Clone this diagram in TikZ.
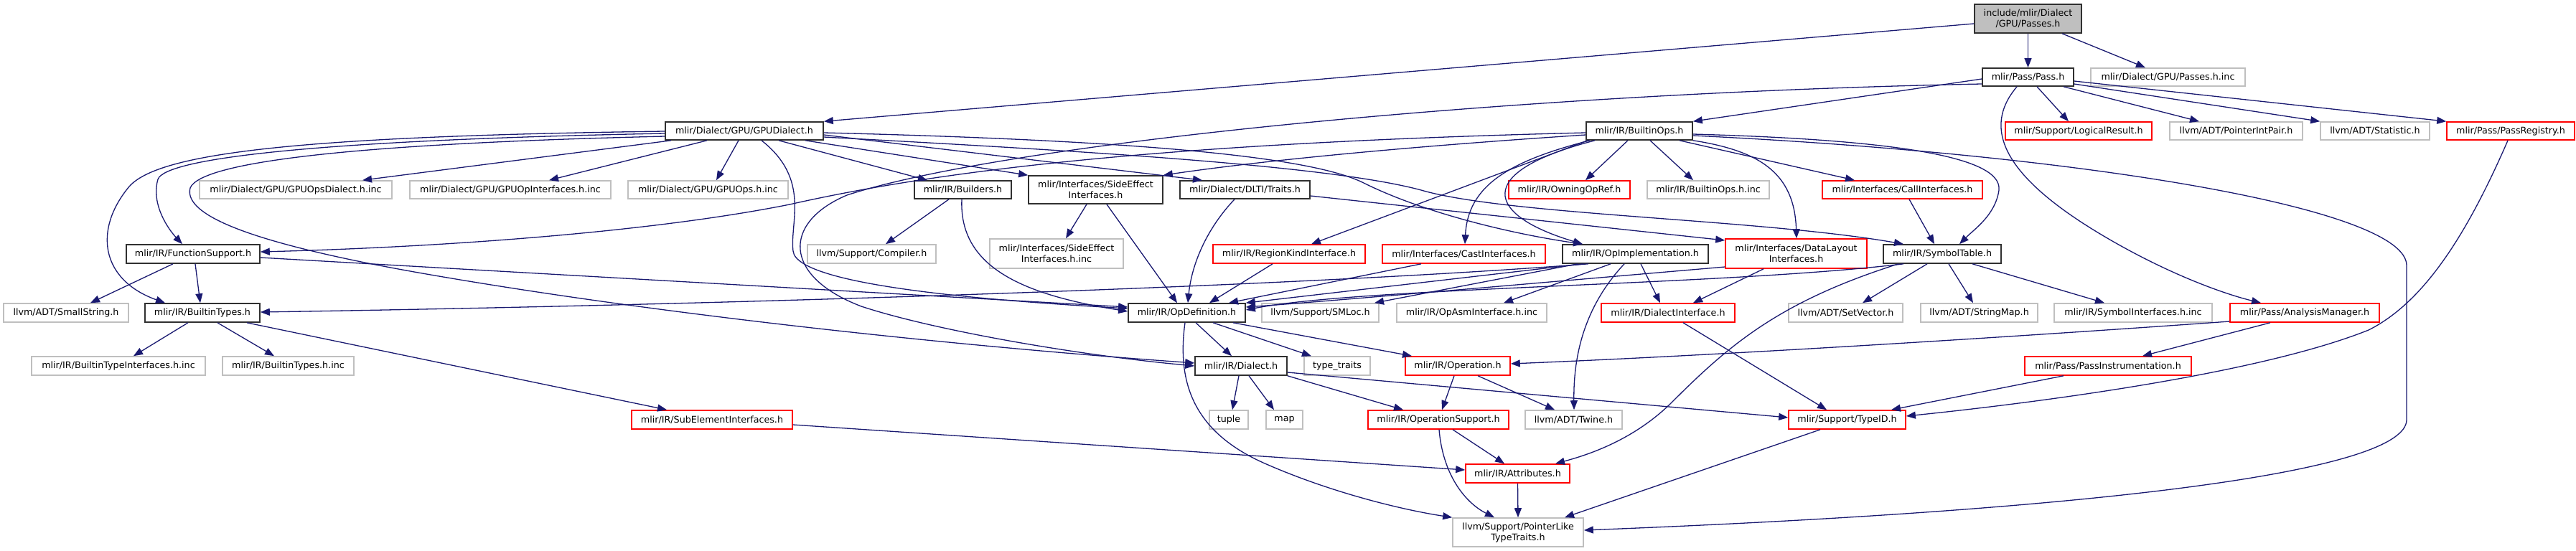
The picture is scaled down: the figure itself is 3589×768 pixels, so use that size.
\documentclass[tikz,border=0pt]{standalone}
\usepackage{fontspec}
\setmainfont{DejaVu Sans}
\usetikzlibrary{arrows.meta}
\definecolor{edgec}{HTML}{191970}
\definecolor{grayb}{HTML}{BFBFBF}
\definecolor{redb}{HTML}{FF0000}
\definecolor{blackb}{HTML}{303030}
\definecolor{curfill}{HTML}{BFBFBF}
\newcommand{\mkbox}[7]{\node[#2, minimum width=#4pt-#3pt, minimum height=#6pt-#5pt] (#1) at ({(#3+#4)/2},{(#5+#6)/2}) {#7};}
\tikzset{
  nb/.style={rectangle, inner sep=0pt, align=center, line width=1.6pt, fill=white, text=black,
             font=\fontsize{12.7}{15}\selectfont},
  blk/.style={nb, draw=blackb},
  gry/.style={nb, draw=grayb},
  rd/.style={nb, draw=redb},
  cur/.style={nb, draw=blackb, fill=curfill},
  e/.style={draw=edgec, line width=1.3pt, -{Triangle[length=13pt,width=10pt]}}
}
\begin{document}
\begin{tikzpicture}[x=1pt,y=-1pt]
\path[use as bounding box] (0,0) rectangle (3589,768);
% row 0
\mkbox{passes}{cur}{2751}{2900}{6}{46}{include/mlir/Dialect\\/GPU/Passes.h}
% row 1
\mkbox{pass}{blk}{2762}{2889}{95}{120}{mlir/Pass/Pass.h}
\mkbox{passesinc}{gry}{2913}{3128}{95}{120}{mlir/Dialect/GPU/Passes.h.inc}
% row 2
\mkbox{gpudialect}{blk}{927}{1147}{170}{195}{mlir/Dialect/GPU/GPUDialect.h}
\mkbox{builtinops}{blk}{2210}{2358}{170}{195}{mlir/IR/BuiltinOps.h}
\mkbox{logicalresult}{rd}{2794}{2998}{170}{195}{mlir/Support/LogicalResult.h}
\mkbox{pointerintpair}{gry}{3023}{3208}{170}{195}{llvm/ADT/PointerIntPair.h}
\mkbox{statistic}{gry}{3233}{3385}{170}{195}{llvm/ADT/Statistic.h}
\mkbox{passregistry}{rd}{3409}{3587}{170}{195}{mlir/Pass/PassRegistry.h}
% row 3
\mkbox{gpuopsdialectinc}{gry}{278}{546}{252}{277}{mlir/Dialect/GPU/GPUOpsDialect.h.inc}
\mkbox{gpuopinterfacesinc}{gry}{571}{851}{252}{277}{mlir/Dialect/GPU/GPUOpInterfaces.h.inc}
\mkbox{gpuopsinc}{gry}{875}{1098}{252}{277}{mlir/Dialect/GPU/GPUOps.h.inc}
\mkbox{builders}{blk}{1274}{1409}{252}{277}{mlir/IR/Builders.h}
\mkbox{sideeffect}{blk}{1433}{1620}{245}{284}{mlir/Interfaces/SideEffect\\Interfaces.h}
\mkbox{dltitraits}{blk}{1644}{1825}{252}{277}{mlir/Dialect/DLTI/Traits.h}
\mkbox{owningopref}{rd}{2102}{2271}{252}{277}{mlir/IR/OwningOpRef.h}
\mkbox{builtinopsinc}{gry}{2295}{2465}{252}{277}{mlir/IR/BuiltinOps.h.inc}
\mkbox{callinterfaces}{rd}{2539}{2762}{252}{277}{mlir/Interfaces/CallInterfaces.h}
% row 4
\mkbox{functionsupport}{blk}{176}{362}{341}{367}{mlir/IR/FunctionSupport.h}
\mkbox{compiler}{gry}{1125}{1304}{341}{367}{llvm/Support/Compiler.h}
\mkbox{sideeffectinc}{gry}{1379}{1565}{333}{374}{mlir/Interfaces/SideEffect\\Interfaces.h.inc}
\mkbox{regionkind}{rd}{1690}{1902}{341}{367}{mlir/IR/RegionKindInterface.h}
\mkbox{castinterfaces}{rd}{1926}{2153}{341}{367}{mlir/Interfaces/CastInterfaces.h}
\mkbox{opimpl}{blk}{2177}{2380}{341}{367}{mlir/IR/OpImplementation.h}
\mkbox{datalayout}{rd}{2404}{2601}{333}{374}{mlir/Interfaces/DataLayout\\Interfaces.h}
\mkbox{symboltable}{blk}{2624}{2788}{341}{367}{mlir/IR/SymbolTable.h}
% row 5
\mkbox{smallstring}{gry}{5}{179}{423}{449}{llvm/ADT/SmallString.h}
\mkbox{builtintypes}{blk}{202}{362}{423}{449}{mlir/IR/BuiltinTypes.h}
\mkbox{opdefinition}{blk}{1572}{1735}{423}{449}{mlir/IR/OpDefinition.h}
\mkbox{smloc}{gry}{1758}{1921}{423}{449}{llvm/Support/SMLoc.h}
\mkbox{opasminc}{gry}{1946}{2155}{423}{449}{mlir/IR/OpAsmInterface.h.inc}
\mkbox{dialectinterface}{rd}{2231}{2417}{423}{449}{mlir/IR/DialectInterface.h}
\mkbox{setvector}{gry}{2492}{2651}{423}{449}{llvm/ADT/SetVector.h}
\mkbox{stringmap}{gry}{2676}{2839}{423}{449}{llvm/ADT/StringMap.h}
\mkbox{symbolinterfacesinc}{gry}{2862}{3082}{423}{449}{mlir/IR/SymbolInterfaces.h.inc}
\mkbox{analysismanager}{rd}{3107}{3315}{423}{449}{mlir/Pass/AnalysisManager.h}
% row 6
\mkbox{builtintypeinterfacesinc}{gry}{44}{286}{497}{523}{mlir/IR/BuiltinTypeInterfaces.h.inc}
\mkbox{builtintypesinc}{gry}{310}{493}{497}{523}{mlir/IR/BuiltinTypes.h.inc}
\mkbox{dialect}{blk}{1665}{1793}{497}{523}{mlir/IR/Dialect.h}
\mkbox{typetraits}{gry}{1817}{1909}{497}{523}{type\_traits}
\mkbox{operation}{rd}{1958}{2104}{497}{523}{mlir/IR/Operation.h}
\mkbox{passinstr}{rd}{2821}{3053}{497}{523}{mlir/Pass/PassInstrumentation.h}
% row 7
\mkbox{subelement}{rd}{880}{1104}{572}{598}{mlir/IR/SubElementInterfaces.h}
\mkbox{tuple}{gry}{1685}{1739}{572}{598}{tuple}
\mkbox{map}{gry}{1764}{1815}{572}{598}{map}
\mkbox{opsupport}{rd}{1906}{2102}{572}{598}{mlir/IR/OperationSupport.h}
\mkbox{twine}{gry}{2125}{2260}{572}{598}{llvm/ADT/Twine.h}
\mkbox{typeid}{rd}{2492}{2655}{572}{598}{mlir/Support/TypeID.h}
% row 8, 9
\mkbox{attributes}{rd}{2042}{2187}{647}{673}{mlir/IR/Attributes.h}
\mkbox{pointerlike}{gry}{2024}{2206}{722}{762}{llvm/Support/PointerLike\\TypeTraits.h}

% ---- edges ----
% Passes.h
\draw[e] (passes.west |- 0,33) -- (gpudialect.north east);
\draw[e] (passes.south) -- (pass.north);
\draw[e] (passes.south -| 2873,0) -- (passesinc.north -| 2989,0);
% Pass.h
\draw[e] (pass.west |- 0,110) -- (builtinops.north east);
\draw[e] (pass.south -| 2838,0) -- (logicalresult.north -| 2882,0);
\draw[e] (pass.south -| 2875,0) -- (pointerintpair.north -| 3064,0);
\draw[e] (pass.east |- 0,117) -- (statistic.north west);
\draw[e] (pass.east |- 0,113) -- (passregistry.north west);
\draw[e] (pass.south -| 2810,0) .. controls (2760,180) and (2790,250) .. (2950,340) .. controls (3030,385) and (3100,410) .. (analysismanager.north -| 3150,0);
\draw[e] (pass.west |- 0,117) .. controls (2100,130) and (1400,200) .. (1180,272) .. controls (1090,310) and (1090,385) .. (1200,427) .. controls (1300,460) and (1500,495) .. (dialect.west);
% GPUDialect.h
\draw[e] (gpudialect.south -| 935,0) -- (gpuopsdialectinc.north -| 505,0);
\draw[e] (gpudialect.south -| 985,0) -- (gpuopinterfacesinc.north -| 765,0);
\draw[e] (gpudialect.south -| 1029,0) -- (gpuopsinc.north -| 998,0);
\draw[e] (gpudialect.south -| 1085,0) -- (builders.north -| 1292,0);
\draw[e] (gpudialect.south -| 1122,0) -- (sideeffect.north west);
\draw[e] (gpudialect.east |- 0,188) -- (dltitraits.north -| 1675,0);
\draw[e] (gpudialect.east |- 0,185) .. controls (1550,195) and (1820,215) .. (1900,255) .. controls (1980,295) and (2100,325) .. (opimpl.north -| 2205,0);
\draw[e] (gpudialect.east |- 0,191) .. controls (1500,210) and (1850,230) .. (1980,265) .. controls (2100,300) and (2450,305) .. (symboltable.north -| 2652,0);
\draw[e] (gpudialect.west |- 0,186) .. controls (450,195) and (230,220) .. (220,250) .. controls (210,285) and (235,320) .. (functionsupport.north -| 254,0);
\draw[e] (gpudialect.west |- 0,183) .. controls (400,190) and (220,215) .. (180,260) .. controls (130,320) and (140,390) .. (builtintypes.north -| 230,0);
\draw[e] (gpudialect.west |- 0,190) .. controls (500,200) and (280,225) .. (265,262) .. controls (255,300) and (350,340) .. (600,383) .. controls (900,435) and (1300,480) .. (dialect.west |- 0,506);
\draw[e] (gpudialect.south -| 1061,0) .. controls (1130,250) and (1100,310) .. (1105,350) .. controls (1110,400) and (1400,420) .. (opdefinition.west |- 0,430);
% BuiltinOps.h
\draw[e] (builtinops.south -| 2268,0) -- (owningopref.north -| 2209,0);
\draw[e] (builtinops.south -| 2299,0) -- (builtinopsinc.north -| 2359,0);
\draw[e] (builtinops.south -| 2340,0) -- (callinterfaces.north -| 2584,0);
\draw[e] (builtinops.east |- 0,187) .. controls (2650,195) and (2790,220) .. (2785,265) .. controls (2780,300) and (2750,320) .. (symboltable.north -| 2730,0);
\draw[e] (builtinops.south east) .. controls (2450,210) and (2500,240) .. (datalayout.north -| 2503,0);
\draw[e] (builtinops.east |- 0,189) .. controls (2900,215) and (3353,290) .. (3353,370) -- (3353,585) .. controls (3353,660) and (2900,712) .. (pointerlike.east |- 0,739);
\draw[e] (builtinops.south -| 2222,0) .. controls (2050,240) and (2070,300) .. (opimpl.north -| 2205,0);
\draw[e] (builtinops.south -| 2215,0) .. controls (2100,225) and (2045,260) .. (castinterfaces.north -| 2041,0);
\draw[e] (builtinops.south -| 2212,0) -- (regionkind.north -| 1827,0);
\draw[e] (builtinops.west |- 0,188) .. controls (1950,205) and (1750,225) .. (sideeffect.north east);
\draw[e] (builtinops.west |- 0,185) .. controls (1600,200) and (1300,240) .. (1100,285) .. controls (900,325) and (600,345) .. (functionsupport.east |- 0,351);
% FunctionSupport.h
\draw[e] (functionsupport.south -| 241,0) -- (smallstring.north -| 126,0);
\draw[e] (functionsupport.south -| 272,0) -- (builtintypes.north -| 279,0);
\draw[e] (functionsupport.east |- 0,359) -- (opdefinition.west |- 0,428);
% Builders.h
\draw[e] (builders.south -| 1322,0) -- (compiler.north -| 1234,0);
\draw[e] (builders.south -| 1340,0) .. controls (1336,370) and (1420,410) .. (opdefinition.west |- 0,434);
% SideEffectInterfaces.h
\draw[e] (sideeffect.south -| 1514,0) -- (sideeffectinc.north -| 1485,0);
\draw[e] (sideeffect.south -| 1542,0) -- (opdefinition.north -| 1640,0);
% DLTI/Traits.h
\draw[e] (dltitraits.south -| 1720,0) .. controls (1680,320) and (1660,370) .. (opdefinition.north -| 1655,0);
\draw[e] (dltitraits.east |- 0,273) -- (datalayout.west |- 0,335);
% RegionKind, CastInterfaces, CallInterfaces
\draw[e] (regionkind.south -| 1773,0) -- (opdefinition.north -| 1685,0);
\draw[e] (castinterfaces.south -| 1980,0) -- (opdefinition.north -| 1712,0);
\draw[e] (callinterfaces.south -| 2660,0) -- (symboltable.north -| 2695,0);
% OpImplementation.h
\draw[e] (opimpl.south -| 2206,0) -- (opdefinition.north east);
\draw[e] (opimpl.south -| 2213,0) .. controls (1800,400) and (1000,425) .. (builtintypes.east |- 0,435);
\draw[e] (opimpl.south -| 2198,0) -- (smloc.north -| 1915,0);
\draw[e] (opimpl.south -| 2244,0) -- (opasminc.north -| 2095,0);
\draw[e] (opimpl.south -| 2263,0) .. controls (2205,430) and (2192,500) .. (twine.north -| 2193,0);
\draw[e] (opimpl.south -| 2286,0) -- (dialectinterface.north -| 2313,0);
% DataLayoutInterfaces.h
\draw[e] (datalayout.south -| 2457,0) -- (dialectinterface.north -| 2359,0);
\draw[e] (datalayout.west |- 0,372) .. controls (2100,398) and (1850,420) .. (opdefinition.east |- 0,428);
% SymbolTable.h
\draw[e] (symboltable.south -| 2652,0) .. controls (2400,398) and (1900,400) .. (opdefinition.east |- 0,432);
\draw[e] (symboltable.south -| 2645,0) .. controls (2480,420) and (2410,480) .. (2330,560) .. controls (2280,610) and (2220,632) .. (attributes.north -| 2167,0);
\draw[e] (symboltable.south -| 2685,0) -- (setvector.north -| 2595,0);
\draw[e] (symboltable.south -| 2715,0) -- (stringmap.north -| 2749,0);
\draw[e] (symboltable.south -| 2748,0) -- (symbolinterfacesinc.north -| 2932,0);
% OpDefinition.h
\draw[e] (opdefinition.south -| 1666,0) -- (dialect.north -| 1716,0);
\draw[e] (opdefinition.south -| 1690,0) -- (typetraits.north -| 1827,0);
\draw[e] (opdefinition.south -| 1718,0) -- (operation.north -| 1967,0);
\draw[e] (opdefinition.south -| 1651,0) .. controls (1640,530) and (1660,600) .. (1760,645) .. controls (1850,685) and (1950,710) .. (pointerlike.north west);
% Dialect.h
\draw[e] (dialect.south -| 1726,0) -- (tuple.north -| 1717,0);
\draw[e] (dialect.south -| 1740,0) -- (map.north -| 1775,0);
\draw[e] (dialect.south east) -- (opsupport.north -| 1955,0);
\draw[e] (dialect.east |- 0,519) -- (typeid.west |- 0,582);
% Operation.h
\draw[e] (operation.south -| 2026,0) -- (opsupport.north -| 2009,0);
\draw[e] (operation.south -| 2059,0) -- (twine.north -| 2166,0);
% OperationSupport.h
\draw[e] (opsupport.south -| 2024,0) -- (attributes.north -| 2096,0);
\draw[e] (opsupport.south -| 2005,0) .. controls (2010,660) and (2040,700) .. (pointerlike.north -| 2082,0);
% Attributes.h, SubElementInterfaces.h
\draw[e] (attributes.south) -- (pointerlike.north);
\draw[e] (subelement.east |- 0,592) -- (attributes.west |- 0,655);
% BuiltinTypes.h
\draw[e] (builtintypes.south -| 344,0) -- (subelement.north -| 929,0);
\draw[e] (builtintypes.south -| 262,0) -- (builtintypeinterfacesinc.north -| 186,0);
\draw[e] (builtintypes.south -| 303,0) -- (builtintypesinc.north -| 382,0);
% TypeID and others
\draw[e] (typeid.south -| 2536,0) -- (pointerlike.north -| 2180,0);
\draw[e] (dialectinterface.south -| 2345,0) -- (typeid.north -| 2545,0);
\draw[e] (passinstr.south -| 2875,0) -- (typeid.north -| 2635,0);
\draw[e] (passregistry.south -| 3494,0) .. controls (3440,320) and (3380,420) .. (3300,460) .. controls (3150,520) and (2850,560) .. (typeid.east |- 0,580);
\draw[e] (analysismanager.west |- 0,448) .. controls (2800,470) and (2400,495) .. (operation.east |- 0,507);
\draw[e] (analysismanager.south -| 3163,0) -- (passinstr.north -| 2985,0);
\end{tikzpicture}
\end{document}
